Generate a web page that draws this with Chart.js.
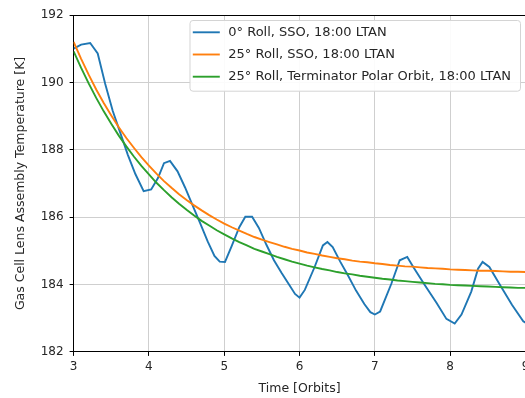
<!DOCTYPE html>
<html><head><meta charset="utf-8">
<script src="https://cdn.jsdelivr.net/npm/chart.js@4/dist/chart.umd.min.js"></script>
<style>html,body{margin:0;padding:0;overflow:hidden;background:#fff;width:525px;height:398px}
canvas{display:block}</style></head>
<body><canvas id="c" width="535" height="398"></canvas>
<script>
const seriesLabels = [
  "0° Roll, SSO, 18:00 LTAN",
  "25° Roll, SSO, 18:00 LTAN",
  "25° Roll, Terminator Polar Orbit, 18:00 LTAN"
];
const xTicks = [3, 4, 5, 6, 7, 8, 9];
const yTicks = [182, 184, 186, 188, 190, 192];
const xTitle = "Time [Orbits]";
const yTitle = "Gas Cell Lens Assembly Temperature [K]";

// 0° Roll, SSO (blue)
const blueOrbit = [3.00,3.10,3.22,3.32,3.42,3.52,3.62,3.72,3.82,3.93,4.03,4.12,4.20,4.28,4.38,4.48,4.58,4.68,4.78,4.87,4.94,5.01,5.10,5.20,5.28,5.37,5.46,5.56,5.66,5.76,5.86,5.94,6.00,6.07,6.20,6.31,6.37,6.44,6.54,6.64,6.75,6.86,6.94,7.00,7.07,7.22,7.33,7.43,7.51,7.66,7.82,7.95,8.06,8.15,8.28,8.37,8.43,8.52,8.65,8.82,8.97,9.00];
const roll0SSO = [191.00,191.12,191.17,190.86,189.95,189.15,188.50,187.85,187.28,186.77,186.82,187.16,187.60,187.67,187.36,186.88,186.35,185.82,185.28,184.85,184.68,184.67,185.15,185.70,186.01,186.01,185.68,185.18,184.72,184.35,184.00,183.72,183.61,183.84,184.52,185.16,185.26,185.11,184.68,184.28,183.82,183.42,183.18,183.11,183.20,184.03,184.72,184.82,184.52,183.99,183.45,182.98,182.84,183.11,183.79,184.47,184.67,184.52,184.03,183.40,182.91,182.87];

// smooth curves (orange, green)
const smoothOrbit = [3.0,3.1,3.2,3.3,3.4,3.5,3.6,3.7,3.8,3.9,4.0,4.1,4.2,4.3,4.4,4.5,4.6,4.7,4.8,4.9,5.0,5.1,5.2,5.3,5.4,5.5,5.6,5.7,5.8,5.9,6.0,6.1,6.2,6.3,6.4,6.5,6.6,6.7,6.8,6.9,7.0,7.1,7.2,7.3,7.4,7.5,7.6,7.7,7.8,7.9,8.0,8.1,8.2,8.3,8.4,8.5,8.6,8.7,8.8,8.9,9.0];
const roll25SSO = [191.20,190.70,190.23,189.79,189.39,189.02,188.67,188.35,188.06,187.78,187.53,187.29,187.07,186.87,186.68,186.51,186.35,186.20,186.06,185.93,185.81,185.70,185.60,185.50,185.41,185.33,185.26,185.19,185.12,185.06,185.01,184.95,184.91,184.86,184.82,184.78,184.75,184.71,184.68,184.66,184.63,184.61,184.58,184.56,184.54,184.53,184.51,184.49,184.48,184.47,184.45,184.44,184.43,184.42,184.41,184.41,184.40,184.39,184.38,184.38,184.37];
const roll25TPO = [190.92,190.43,189.97,189.54,189.14,188.77,188.42,188.10,187.80,187.52,187.27,187.02,186.80,186.59,186.40,186.22,186.05,185.89,185.75,185.61,185.49,185.37,185.26,185.16,185.06,184.98,184.90,184.82,184.75,184.68,184.62,184.56,184.51,184.46,184.42,184.37,184.33,184.30,184.26,184.23,184.20,184.17,184.15,184.12,184.10,184.08,184.06,184.04,184.02,184.01,183.99,183.98,183.97,183.96,183.95,183.94,183.93,183.92,183.91,183.90,183.90];

const FONT = '"DejaVu Sans", sans-serif';
const pts = (xs, ys) => xs.map((x, i) => ({x: x, y: ys[i]}));

const boxLegend = {
  id: 'boxLegend',
  afterDraw(chart) {
    const ctx = chart.ctx, a = chart.chartArea;
    // top spine
    ctx.save();
    ctx.strokeStyle = '#000'; ctx.lineWidth = 1;
    ctx.beginPath();
    ctx.moveTo(a.left, Math.round(a.top) + 0.5);
    ctx.lineTo(a.right, Math.round(a.top) + 0.5);
    ctx.stroke();
    // legend
    const fs = 13;
    ctx.font = fs + 'px ' + FONT;
    const ds = chart.data.datasets;
    const tw = Math.max(...ds.map(d => ctx.measureText(d.label).width));
    const lineLen = 27, padL = 3.3, gap = 8.5, padR = 9, rowH = 22.2, padT = 12.3, padB = 14;
    const w = padL + lineLen + gap + tw + padR;
    const h = padT + rowH * (ds.length - 1) + padB;
    const right = a.right - 5.5, top = a.top + 5, left = right - w;
    ctx.beginPath();
    ctx.roundRect(left + 0.5, top + 0.5, w, h, 3);
    ctx.fillStyle = 'rgba(255,255,255,0.9)';
    ctx.fill();
    ctx.strokeStyle = '#d4d4d4';
    ctx.stroke();
    ds.forEach((d, i) => {
      const y = top + padT + i * rowH;
      ctx.strokeStyle = d.borderColor; ctx.lineWidth = 1.9;
      ctx.beginPath();
      ctx.moveTo(left + padL, y); ctx.lineTo(left + padL + lineLen, y);
      ctx.stroke();
      ctx.fillStyle = '#262626';
      ctx.textBaseline = 'middle';
      ctx.fillText(d.label, left + padL + lineLen + gap, y);
    });
    ctx.restore();
  }
};

new Chart(document.getElementById('c'), {
  type: 'line',
  data: {
    datasets: [
      {label: seriesLabels[0], data: pts(blueOrbit, roll0SSO), borderColor: '#1f77b4', order: 3},
      {label: seriesLabels[1], data: pts(smoothOrbit, roll25SSO), borderColor: '#ff7f0e', order: 2},
      {label: seriesLabels[2], data: pts(smoothOrbit, roll25TPO), borderColor: '#2ca02c', order: 1}
    ].map(d => Object.assign(d, {borderWidth: 1.9, pointRadius: 0, tension: 0, fill: false}))
  },
  options: {
    responsive: false,
    animation: false,
    events: [],
    layout: {padding: {top: 15, left: 9, right: 9.5, bottom: 0.8}},
    plugins: {legend: {display: false}, tooltip: {enabled: false}},
    scales: {
      x: {
        type: 'linear', min: xTicks[0], max: xTicks[xTicks.length - 1],
        afterBuildTicks: ax => { ax.ticks = xTicks.map(v => ({value: v})); },
        grid: {color: '#cfcfcf', lineWidth: 1, tickColor: '#000', tickLength: 4},
        border: {color: '#000', width: 1},
        ticks: {font: {family: FONT, size: 12}, color: '#262626', padding: 3.5, maxRotation: 0},
        title: {display: true, text: xTitle, font: {family: FONT, size: 12.5}, color: '#262626', padding: {top: 3.9, bottom: 1}}
      },
      y: {
        type: 'linear', min: yTicks[0], max: yTicks[yTicks.length - 1],
        afterBuildTicks: ax => { ax.ticks = yTicks.map(v => ({value: v})); },
        grid: {color: '#cfcfcf', lineWidth: 1, tickColor: '#000', tickLength: 4},
        border: {color: '#000', width: 1},
        ticks: {font: {family: FONT, size: 12}, color: '#262626', padding: 6},
        title: {display: true, text: yTitle, font: {family: FONT, size: 12.5}, color: '#262626', padding: {top: 4, bottom: 6.7}}
      }
    }
  },
  plugins: [boxLegend]
});
</script>
</body></html>
